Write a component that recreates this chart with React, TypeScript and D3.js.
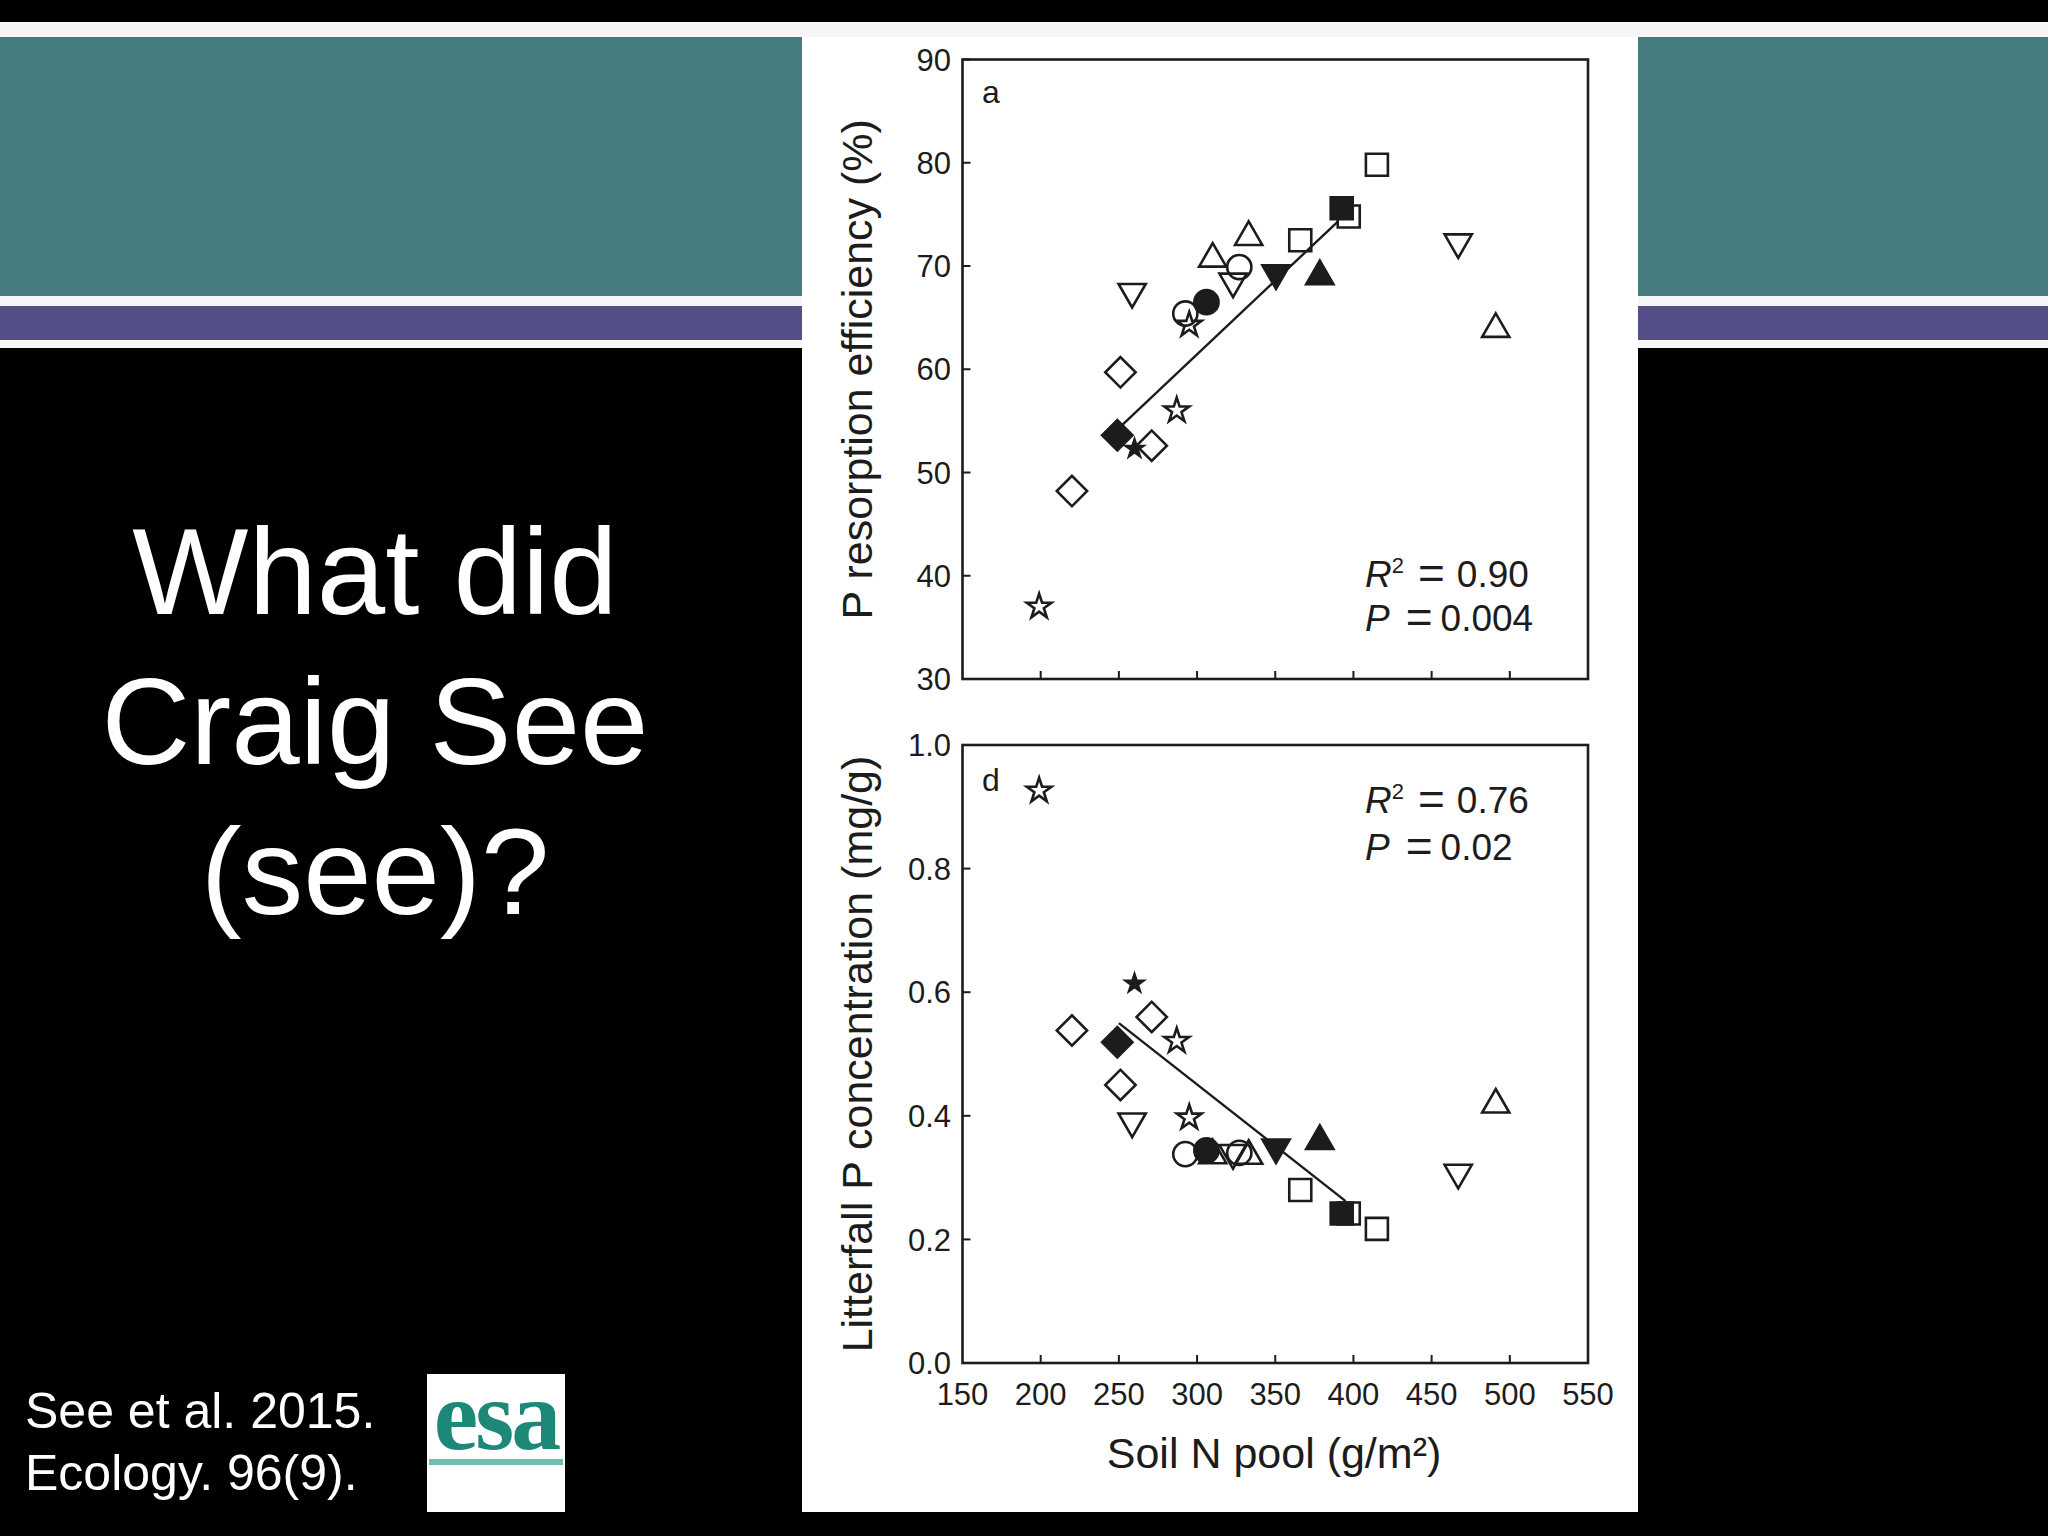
import React from "react";
import * as d3 from "d3";

// ---- Data ----
const soilN = [199, 220, 251, 249, 260, 271, 287, 258.5, 292.5, 295, 306, 310, 333, 327, 323, 350.5, 378.5, 366, 392.5, 397, 415, 467, 491];
const resorption = [37.0, 48.2, 59.7, 53.6, 52.3, 52.6, 56.0, 67.5, 65.4, 64.3, 66.5, 70.7, 72.8, 69.9, 68.5, 69.3, 69.0, 72.5, 75.6, 74.8, 79.8, 72.3, 63.9];
const litterP = [0.926, 0.538, 0.45, 0.519, 0.614, 0.56, 0.521, 0.391, 0.338, 0.397, 0.344, 0.336, 0.335, 0.34, 0.34, 0.349, 0.359, 0.28, 0.242, 0.242, 0.217, 0.308, 0.418];
const markerShape = ["star", "diamond", "diamond", "diamond", "star", "diamond", "star", "triDown", "circle", "star", "circle", "triangle", "triangle", "circle", "triDown", "triDown", "triangle", "square", "square", "square", "square", "triDown", "triangle"];
const markerFilled = [false, false, false, true, true, false, false, false, false, false, true, false, false, false, false, true, true, false, true, false, false, false, false];

const fitA = [[250, 54.3], [390, 74.3]];
const fitD = [[250, 0.55], [395, 0.262]];

const xTicks = [150, 200, 250, 300, 350, 400, 450, 500, 550];
const yTicksA = [30, 40, 50, 60, 70, 80, 90];
const yTicksD = [0, 0.2, 0.4, 0.6, 0.8, 1.0];

const statsA = ["0.90", "0.004"];
const statsD = ["0.76", "0.02"];

const titleLines = ["What did", "Craig See", "(see)?"];
const citationLines = ["See et al. 2015.", "Ecology. 96(9)."];

const FONT = "'Liberation Sans', Arial, Helvetica, sans-serif";
const INK = "#1c1c1c";

function symbolPath(shape: string, filled: boolean) {
  const gen = d3.symbol();
  switch (shape) {
    case "square":
      return { d: gen.type(d3.symbolSquare).size(484)()!, rot: 0 };
    case "diamond":
      return { d: gen.type(d3.symbolSquare).size(460)()!, rot: 45 };
    case "circle":
      return { d: gen.type(d3.symbolCircle).size(460)()!, rot: 0 };
    case "triangle":
      return { d: gen.type(d3.symbolTriangle).size(320)()!, rot: 0 };
    case "triDown":
      return { d: gen.type(d3.symbolTriangle).size(320)()!, rot: 180 };
    case "star":
    default:
      return { d: gen.type(d3.symbolStar).size(filled ? 92 : 190)()!, rot: 0 };
  }
}

function Panel(props: {
  top: number;
  bottom: number;
  yDomain: [number, number];
  yTicks: number[];
  yFmt: (v: number) => string;
  values: number[];
  fit: number[][];
  letter: string;
  stats: string[];
  statsY: [number, number];
  ylabel: string;
  showX: boolean;
}) {
  const { top, bottom, yDomain, yTicks, yFmt, values, fit, letter, stats, statsY, ylabel, showX } = props;
  const left = 962.5;
  const right = 1588;
  const x = d3.scaleLinear().domain([150, 550]).range([left, right]);
  const y = d3.scaleLinear().domain(yDomain).range([bottom, top]);
  const order = d3.range(soilN.length).sort((a, b) => Number(markerFilled[a]) - Number(markerFilled[b]));
  const line = d3.line<number[]>().x((d) => x(d[0])).y((d) => y(d[1]));
  return (
    <g fontFamily={FONT} fill={INK}>
      {/* frame */}
      <rect x={left} y={top} width={right - left} height={bottom - top} fill="none" stroke={INK} strokeWidth={2.6} />
      {/* y ticks */}
      {yTicks.map((t) => (
        <g key={"yt" + t}>
          <line x1={left} x2={left + 8} y1={y(t)} y2={y(t)} stroke={INK} strokeWidth={2} />
          <text x={951} y={y(t)} dy="0.36em" textAnchor="end" fontSize={31}>
            {yFmt(t)}
          </text>
        </g>
      ))}
      {/* x ticks */}
      {xTicks.slice(1, -1).map((t) => (
        <line key={"xt" + t} x1={x(t)} x2={x(t)} y1={bottom} y2={bottom - 8} stroke={INK} strokeWidth={2} />
      ))}
      {showX &&
        xTicks.map((t) => (
          <text key={"xl" + t} x={x(t)} y={1405} textAnchor="middle" fontSize={31}>
            {t}
          </text>
        ))}
      {/* regression */}
      <path d={line(fit)!} fill="none" stroke={INK} strokeWidth={2.4} />
      {/* markers */}
      {order.map((i) => {
        const s = symbolPath(markerShape[i], markerFilled[i]);
        return (
          <path
            key={"m" + i}
            d={s.d}
            transform={`translate(${x(soilN[i])},${y(values[i])}) rotate(${s.rot})`}
            fill={markerFilled[i] ? INK : "none"}
            stroke={INK}
            strokeWidth={2.6}
            strokeLinejoin="miter"
          />
        );
      })}
      {/* panel letter */}
      <text x={982} y={top + (letter === "a" ? 43 : 46)} fontSize={32}>
        {letter}
      </text>
      {/* stats */}
      <text x={1365} y={statsY[0]} fontSize={37}>
        <tspan fontStyle="italic">R</tspan>
        <tspan fontSize={22} dy={-14}>2</tspan>
        <tspan fontSize={46} dy={16} dx={14}>=</tspan>
        <tspan dy={-2} dx={12}>{stats[0]}</tspan>
      </text>
      <text x={1365} y={statsY[1]} fontSize={37}>
        <tspan fontStyle="italic">P</tspan>
        <tspan fontSize={46} dy={2} dx={16}>=</tspan>
        <tspan dy={-2} dx={8}>{stats[1]}</tspan>
      </text>
      {/* y label */}
      <text transform={`translate(872,${(top + bottom) / 2}) rotate(-90)`} textAnchor="middle" fontSize={43}>
        {ylabel}
      </text>
    </g>
  );
}

export default function App() {
  return (
    <svg
      width={2048}
      height={1536}
      viewBox="0 0 2048 1536"
      style={{ position: "absolute", left: 0, top: 0, display: "block", background: "#000" }}
    >
      {/* slide background */}
      <rect x={0} y={0} width={2048} height={1536} fill="#000" />
      <rect x={0} y={22} width={2048} height={15} fill="#f6f6f6" />
      <rect x={0} y={37} width={2048} height={259} fill="#467b80" />
      <rect x={0} y={296} width={2048} height={10} fill="#f6f6f6" />
      <rect x={0} y={306} width={2048} height={34} fill="#554f88" />
      <rect x={0} y={340} width={2048} height={8} fill="#f6f6f6" />

      {/* title */}
      <g fontFamily={FONT} fill="#fff" fontSize={123} textAnchor="middle">
        {titleLines.map((t, i) => (
          <text key={t} x={375} y={614 + i * 150}>
            {t}
          </text>
        ))}
      </g>

      {/* citation */}
      <g fontFamily={FONT} fill="#fff" fontSize={50}>
        {citationLines.map((t, i) => (
          <text key={t} x={25} y={1428 + i * 62}>
            {t}
          </text>
        ))}
      </g>

      {/* esa logo */}
      <rect x={427} y={1374} width={138} height={138} fill="#fff" />
      <text x={496} y={1449} textAnchor="middle" fontFamily="'Liberation Serif', 'Times New Roman', serif" fontWeight="bold" fontSize={100} fill="#1d8878" letterSpacing={-3}>
        esa
      </text>
      <rect x={429} y={1459} width={134} height={6} fill="#6dbfae" />

      {/* chart panel */}
      <rect x={802} y={37} width={836} height={1475} fill="#fff" />

      <Panel
        top={59.5}
        bottom={679}
        yDomain={[30, 90]}
        yTicks={yTicksA}
        yFmt={(v) => String(v)}
        values={resorption}
        fit={fitA}
        letter="a"
        stats={statsA}
        statsY={[587, 631]}
        ylabel="P resorption efficiency (%)"
        showX={false}
      />
      <Panel
        top={745}
        bottom={1363}
        yDomain={[0, 1]}
        yTicks={yTicksD}
        yFmt={(v) => v.toFixed(1)}
        values={litterP}
        fit={fitD}
        letter="d"
        stats={statsD}
        statsY={[813, 860]}
        ylabel="Litterfall P concentration (mg/g)"
        showX={true}
      />
      <text x={1274} y={1468} textAnchor="middle" fontFamily={FONT} fontSize={43} fill={INK}>
        Soil N pool (g/m²)
      </text>
    </svg>
  );
}
